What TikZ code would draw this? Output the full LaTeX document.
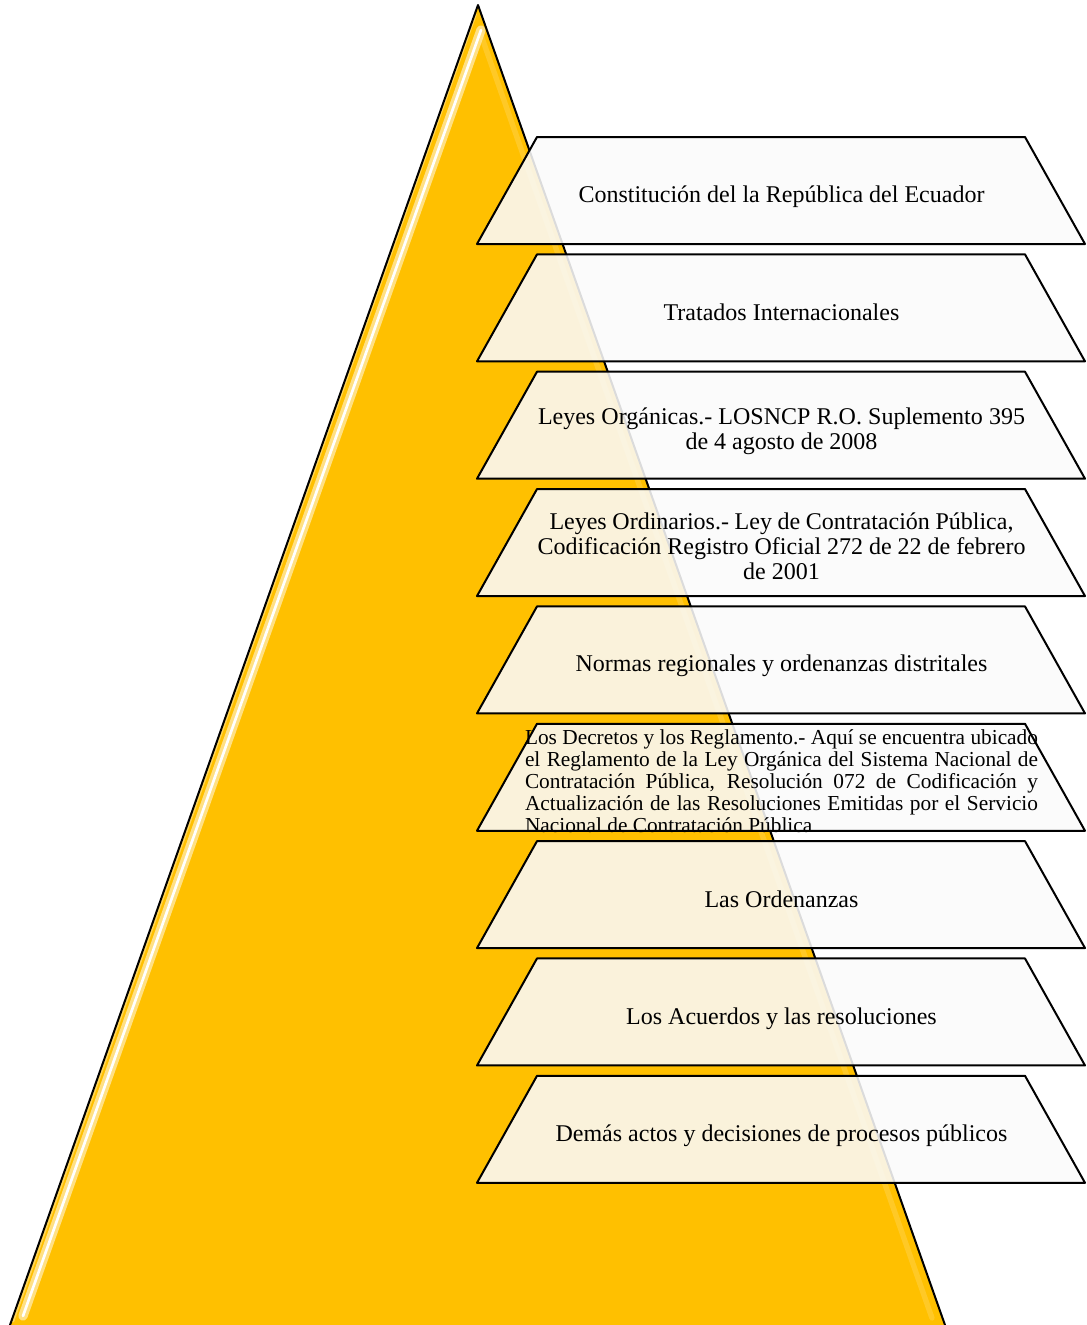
\documentclass[tikz,border=0pt]{standalone}
\usepackage{fontspec}
\setmainfont{Liberation Serif}
\definecolor{gold}{HTML}{FFC000}
\begin{document}
\begin{tikzpicture}[x=0.75pt,y=-0.75pt,
  tier/.style={draw=black, line width=1.5pt, line join=round, fill=black!2, fill opacity=0.88},
  tiertext/.style={font=\fontsize{18}{18.75}\selectfont, align=center, inner sep=0pt, text=black},
  longtext/.style={font=\fontsize{16}{16.5}\selectfont, align=left, inner sep=0pt, text=black}]
\useasboundingbox (0,0) rectangle (1086,1325);

% pyramid
\coordinate (apex) at (478,5);
\coordinate (bl) at (10,1325);
\coordinate (br) at (945,1325);
\fill[gold] (apex) -- (bl) -- (br) -- cycle;
% glossy highlights inside the pyramid
\draw[gold!70!white, line width=4pt, opacity=0.5, line cap=round] (481,35) -- (932,1318);
\draw[gold!35!white, line width=7pt, opacity=0.8, line cap=round] (481,30) -- (23,1316);
\draw[white, line width=2pt, line cap=round] (481,30) -- (23,1316);
\draw[gold!50!white, line width=1.5pt, opacity=0.7] (476,14) -- (13,1322);
\draw[line width=1.5pt, line join=round] (bl) -- (apex) -- (br);

% tiers
\foreach \i in {0,...,8}{
  \pgfmathsetmacro\t{137+117.35*\i}
  \draw[tier] (537,\t) -- (1025,\t) -- (1085,\t+107) -- (477,\t+107) -- cycle;
}

% tier texts
\node[tiertext] (n1) at (781.5,197) {Constitución del la República del Ecuador};
\node[tiertext] (n2) at (781.5,312) {Tratados Internacionales};
\node[tiertext] (n3) at (781.5,431) {\makebox[365.25pt][s]{Leyes Orgánicas.- LOSNCP R.O. Suplemento 395}\\de 4 agosto de 2008};
\node[tiertext] (n4) at (781.5,546) {\makebox[348pt][s]{Leyes Ordinarios.- Ley de Contratación Pública,}\\\makebox[366pt][s]{Codificación Registro Oficial 272 de 22 de febrero}\\de 2001};
\node[tiertext] (n5) at (781.5,666) {Normas regionales y ordenanzas distritales};
\node[longtext] (n6) at (781.5,781) {\makebox[384.75pt][s]{Los Decretos y los Reglamento.- Aquí se encuentra ubicado}\\
\makebox[384.75pt][s]{el Reglamento de la Ley Orgánica del Sistema Nacional de}\\
\makebox[384.75pt][s]{Contratación Pública, Resolución 072 de Codificación y}\\
\makebox[384.75pt][s]{Actualización de las Resoluciones Emitidas por el Servicio}\\
Nacional de Contratación Pública};
\node[tiertext] (n7) at (781.5,899) {Las Ordenanzas};
\node[tiertext] (n8) at (781.5,1019) {Los Acuerdos y las resoluciones};
\node[tiertext] (n9) at (781.5,1136) {Demás actos y decisiones de procesos públicos};
\end{tikzpicture}
\end{document}
